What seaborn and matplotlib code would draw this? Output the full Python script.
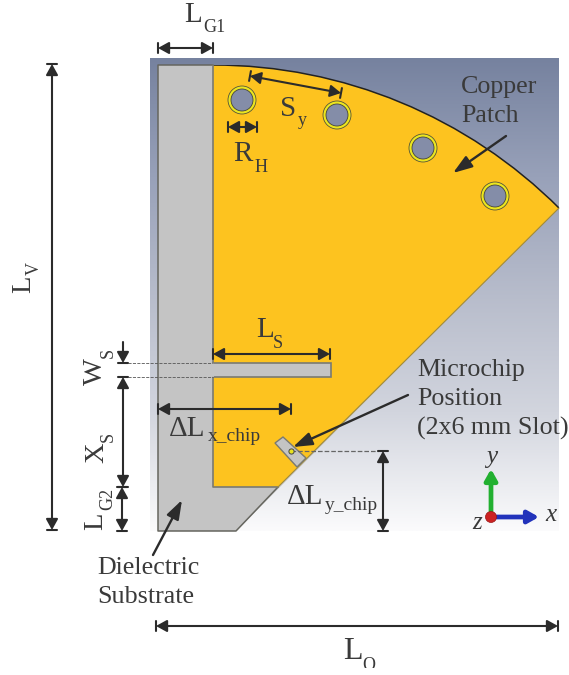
import numpy as np
import matplotlib
matplotlib.use('Agg')
import matplotlib.pyplot as plt
from matplotlib.colors import LinearSegmentedColormap
from matplotlib.patches import Circle, Polygon, Rectangle
import seaborn as sns

# Everything below is in reference pixels (x right, y down)

# Geometry
background_box = [150, 559, 531, 58]
background_colors = ['#76829f', '#98a1b9', '#b7bccb', '#d2d5de', '#fbfbfc']
substrate_x = [158, 213, 559, 236, 158]
substrate_y = [65, 65, 208, 531, 531]
substrate_edge_x = [213, 158, 158, 236, 278]
substrate_edge_y = [65, 65, 531, 531, 487]
patch_x = [213, 559, 559, 278, 213]
patch_y = [65, 65, 208, 487, 487]
slot_x = [213, 331, 331, 213]
slot_y = [363, 363, 377, 377]
chip_x = [275, 283, 306, 297]
chip_y = [443, 437, 458, 467]
arc_center = (213, 555)
arc_radius = 490
hole_x = [242, 337, 423, 495]
hole_y = [100, 115, 148, 196]

# Dimension arrows: x0, y0, x1, y1
dim_lines = {
    'LG1': (158, 48, 213, 48),
    'LV': (52, 64, 52, 530),
    'Sy': (250, 76, 341, 93),
    'RH': (228, 127, 257, 127),
    'LS': (213, 354, 330, 354),
    'Xs': (123, 377, 123, 487),
    'LG2': (122, 487, 122, 531),
    'dLx': (158, 409, 291, 409),
    'dLy': (383, 451, 383, 531),
    'LO': (156, 626, 558, 626),
}
pointer_arrows = [
    (506, 136, 453, 173),
    (153, 555, 182, 500),
    (408, 395, 293, 447),
]

# Labels: main text, x, y, subscript, x, y
labels_flat = [
    ('L', 184, 22, 'G1', 203, 32),
    ('S', 280, 116, 'y', 298, 125),
    ('R', 233, 161, 'H', 255, 172),
    ('L', 256, 337, 'S', 273, 348),
    ('\u0394L', 169, 436, 'x_chip', 208, 441),
    ('\u0394L', 287, 504, 'y_chip', 325, 510),
    ('L', 343, 659, 'O', 362, 670),
]
labels_up = [
    ('L', 30, 293, 'V', 39, 275),
    ('W', 102, 385, 'S', 113, 358),
    ('X', 103, 463, 'S', 113, 442),
    ('L', 102, 530, 'G2', 112, 510),
]
notes = [
    ('Copper', 461, 93), ('Patch', 461, 122),
    ('Microchip', 417, 376), ('Position', 417, 405), ('(2x6 mm Slot)', 417, 435),
    ('Dielectric', 97, 574), ('Substrate', 97, 603),
]

ink = '#2b2b2b'
text_color = '#3a3a3a'
gold = '#fdc31f'
grey = '#c4c4c4'
edge = '#7a7a72'

sns.set_theme(style='white')
plt.rcParams['font.family'] = ['Liberation Serif', 'DejaVu Serif']

fig = plt.figure(figsize=(5.69, 6.75), dpi=100)
ax = fig.add_axes([0, 0, 1, 1])

# Background gradient
cmap = LinearSegmentedColormap.from_list('bg', background_colors)
ax.imshow(np.linspace(0, 1, 256).reshape(-1, 1), cmap=cmap, aspect='auto',
          extent=background_box, zorder=0)

# Substrate and copper
ax.add_patch(Polygon(np.column_stack([substrate_x, substrate_y]), fc=grey, ec='none', zorder=1))
ax.plot(substrate_edge_x, substrate_edge_y, color='#66665f', lw=1.1, zorder=1.5)
clip = Polygon(np.column_stack([patch_x, patch_y]), transform=ax.transData)
copper = Circle(arc_center, arc_radius, fc=gold, ec='none', zorder=2)
ax.add_patch(copper)
copper.set_clip_path(clip)
rim = Circle(arc_center, arc_radius, fc='none', ec='#222222', lw=1.1, zorder=3)
ax.add_patch(rim)
rim.set_clip_path(clip)
ax.plot(patch_x[3:] + [213], patch_y[3:] + [65], color=edge, lw=1.2, zorder=3)
ax.plot(patch_x[2:4], patch_y[2:4], color='#a08a3a', lw=0.8, zorder=3)

# Slots
ax.add_patch(Polygon(np.column_stack([slot_x, slot_y]), fc=grey, ec=edge, lw=1.2, zorder=4))
ax.plot([213, 213], [364, 376], color=grey, lw=1.6, zorder=5)
ax.add_patch(Polygon(np.column_stack([chip_x, chip_y]), fc=grey, ec=edge, lw=1, zorder=4))

# Holes
for hx, hy in zip(hole_x, hole_y):
    ax.add_patch(Circle((hx, hy), 14, fc='#ece61e', ec='#55553a', lw=0.6, zorder=4))
    ax.add_patch(Circle((hx, hy), 11, fc='#848da8', ec='#45453a', lw=0.6, zorder=5))


def dim(x0, y0, x1, y1, cap=5, style='<|-|>', cap_start=True):
    # Two headed arrow with a short bar at each end
    ax.annotate('', xy=(x1, y1), xytext=(x0, y0), zorder=8,
                arrowprops=dict(arrowstyle=style + ',head_length=0.38,head_width=0.21',
                                color=ink, lw=1.5, shrinkA=0, shrinkB=0, mutation_scale=17))
    dx, dy = x1 - x0, y1 - y0
    n = np.hypot(dx, dy)
    px, py = -dy / n * cap, dx / n * cap
    ends = [(x1, y1)] + ([(x0, y0)] if cap_start else [])
    for ex, ey in ends:
        ax.plot([ex - px, ex + px], [ey - py, ey + py], color=ink, lw=1.5, zorder=8)


for key, seg in dim_lines.items():
    dim(*seg)
dim(123, 342, 123, 363, style='-|>', cap_start=False)

for x0, y0, x1, y1 in pointer_arrows:
    ax.annotate('', xy=(x1, y1), xytext=(x0, y0), zorder=9,
                arrowprops=dict(arrowstyle='-|>,head_length=0.64,head_width=0.22', color=ink,
                                lw=1.7, shrinkA=0, shrinkB=0, mutation_scale=18))

# Dashed leaders
sns.lineplot(x=[128, 213], y=[363, 363], color='#555555', lw=0.6, ls='--', ax=ax, sort=False, zorder=6)
sns.lineplot(x=[128, 213], y=[377, 377], color='#555555', lw=0.6, ls='--', ax=ax, sort=False, zorder=6)
sns.lineplot(x=[291, 291], y=[413, 450], color='#8a7430', lw=0.9, ls='--', ax=ax, sort=False, zorder=6)
sns.lineplot(x=[291, 378], y=[451, 451], color='#666666', lw=0.9, ls='--', ax=ax, sort=False, zorder=6)
sns.scatterplot(x=[291], y=[451], s=14, color='#e8e21e', edgecolor='#444444', linewidth=0.7, ax=ax, zorder=7)

# Coordinate triad
ax.annotate('', xy=(491, 469), xytext=(491, 517), zorder=9,
            arrowprops=dict(arrowstyle='-|>,head_length=0.46,head_width=0.26', color='#22b030',
                            lw=3.4, shrinkA=0, shrinkB=0, mutation_scale=14))
ax.annotate('', xy=(539, 517), xytext=(491, 517), zorder=9,
            arrowprops=dict(arrowstyle='-|>,head_length=0.46,head_width=0.26', color='#2233bb',
                            lw=3.4, shrinkA=0, shrinkB=0, mutation_scale=14))
ax.add_patch(Circle((491, 517), 5.5, fc='#cc2222', ec='#991515', lw=0.5, zorder=10))
for name, tx, ty in [('y', 486, 463), ('x', 545, 521), ('z', 472, 529)]:
    ax.text(tx, ty, name, fontsize=18, style='italic', color=text_color, va='baseline', zorder=11)

# Text
for main, mx, my, sub, sx, sy in labels_flat:
    ax.text(mx, my, main, fontsize=23 if sub == 'O' else 21, color=text_color, va='baseline', zorder=11)
    ax.text(sx, sy, sub, fontsize=14 if 'chip' in sub else 13, color=text_color, va='baseline', zorder=11)
for main, mx, my, sub, sx, sy in labels_up:
    ax.text(mx, my, main, fontsize=20.5, color=text_color, rotation=90, rotation_mode='anchor',
            ha='left', va='baseline', zorder=11)
    ax.text(sx, sy, sub, fontsize=13, color=text_color, rotation=90, rotation_mode='anchor',
            ha='left', va='baseline', zorder=11)
for line, tx, ty in notes:
    ax.text(tx, ty, line, fontsize=18.7, color=text_color, va='baseline', zorder=11)

# The original picture is cut off just under L_O
ax.add_patch(Rectangle((0, 668), 569, 7, fc='white', ec='none', zorder=12))

ax.set_xlim(0, 569)
ax.set_ylim(675, 0)
ax.axis('off')
fig.savefig('out.png', dpi=100)
